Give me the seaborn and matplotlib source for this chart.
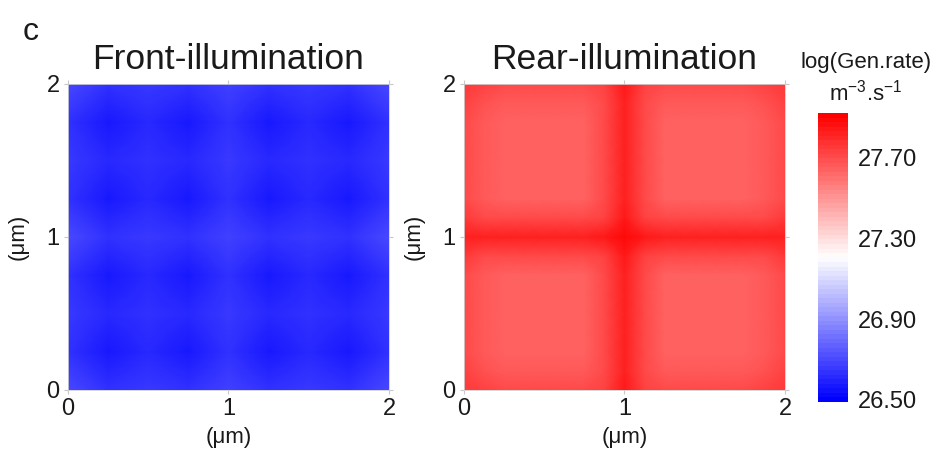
import numpy as np
import matplotlib
matplotlib.use("Agg")
import matplotlib.pyplot as plt
import seaborn as sns
from matplotlib.colors import LinearSegmentedColormap

# ---- data (log generation rate, m^-3 s^-1) ----
# front illumination: 9x9 grid, 0.25 um spacing, rows from y=0 (bottom) to y=2 (top)
front_row_light = [26.70, 26.64, 26.66, 26.64, 26.68, 26.64, 26.66, 26.64, 26.70]
front_row_dark  = [26.64, 26.57, 26.61, 26.57, 26.63, 26.57, 26.61, 26.57, 26.64]
front_row_mid   = [26.66, 26.61, 26.64, 26.61, 26.65, 26.61, 26.64, 26.61, 26.66]
front_rows = [front_row_light, front_row_dark, front_row_mid, front_row_dark,
              front_row_light, front_row_dark, front_row_mid, front_row_dark,
              front_row_light]

# rear illumination: 17x17 grid, 0.125 um spacing, rows from y=0 (bottom) to y=2 (top)
rear_row_edge   = [27.76, 27.72, 27.71, 27.71, 27.71, 27.71, 27.71, 27.74, 27.84,
                   27.74, 27.71, 27.71, 27.71, 27.71, 27.71, 27.72, 27.76]
rear_row_near   = [27.72, 27.68, 27.67, 27.67, 27.67, 27.67, 27.67, 27.71, 27.82,
                   27.71, 27.67, 27.67, 27.67, 27.67, 27.67, 27.68, 27.72]
rear_row_inner  = [27.71, 27.67, 27.65, 27.65, 27.65, 27.65, 27.65, 27.70, 27.82,
                   27.70, 27.65, 27.65, 27.65, 27.65, 27.65, 27.67, 27.71]
rear_row_side   = [27.75, 27.71, 27.70, 27.70, 27.70, 27.70, 27.70, 27.73, 27.84,
                   27.73, 27.70, 27.70, 27.70, 27.70, 27.70, 27.71, 27.75]
rear_row_center = [27.83, 27.82, 27.82, 27.82, 27.82, 27.82, 27.82, 27.84, 27.89,
                   27.84, 27.82, 27.82, 27.82, 27.82, 27.82, 27.82, 27.83]
rear_rows = [rear_row_edge, rear_row_near, rear_row_inner, rear_row_inner,
             rear_row_inner, rear_row_inner, rear_row_inner, rear_row_side,
             rear_row_center,
             rear_row_side, rear_row_inner, rear_row_inner, rear_row_inner,
             rear_row_inner, rear_row_inner, rear_row_near, rear_row_edge]

titles = ["Front-illumination", "Rear-illumination"]
tick_labels = ["0", "1", "2"]
cbar_ticks = [26.50, 26.90, 27.30, 27.70]
vmin, vmax = 26.49, 27.92

# ---- style ----
sns.set_theme(style="white")
plt.rcParams["font.family"] = ["Liberation Sans", "DejaVu Sans"]
plt.rcParams["mathtext.fontset"] = "custom"
plt.rcParams["mathtext.rm"] = "Liberation Sans"
plt.rcParams["mathtext.it"] = "Liberation Sans:italic"
plt.rcParams["mathtext.bf"] = "Liberation Sans:bold"

ink = "#1a1a1a"
cmap = LinearSegmentedColormap.from_list(
    "bwr64", [(0.0, 0.0, 1.0), (1.0, 1.0, 1.0), (1.0, 0.0, 0.0)], N=64)

fig = plt.figure(figsize=(9.36, 4.55), dpi=100)
ax1 = fig.add_axes([0.0726, 0.143, 0.343, 0.6725])
ax2 = fig.add_axes([0.4957, 0.143, 0.343, 0.6725])
cax = fig.add_axes([0.874, 0.1165, 0.032, 0.635])

for ax, rows, title, draw_cbar in [(ax1, front_rows, titles[0], False),
                                   (ax2, rear_rows, titles[1], True)]:
    data = np.array(rows)
    n = data.shape[0] - 1
    sns.heatmap(data, ax=ax, cmap=cmap, vmin=vmin, vmax=vmax,
                cbar=draw_cbar, cbar_ax=cax if draw_cbar else None,
                cbar_kws={"ticks": cbar_ticks, "format": "%.2f"} if draw_cbar else None,
                shading="gouraud", xticklabels=False, yticklabels=False,
                square=False)
    ax.set_xlim(0, n)
    ax.set_ylim(0, n)
    ax.set_xticks([0, n / 2, n])
    ax.set_yticks([0, n / 2, n])
    ax.set_xticklabels(tick_labels, fontsize=17, color=ink)
    ax.set_yticklabels(tick_labels, fontsize=17, color=ink, rotation=0)
    ax.tick_params(axis="both", which="both", direction="out", length=3,
                   width=0.8, color="#c8c8c8", pad=3,
                   top=True, right=True, bottom=True, left=True,
                   labeltop=False, labelright=False)
    for s in ax.spines.values():
        s.set_visible(True)
        s.set_color("#d0d0d0")
        s.set_linewidth(0.6)
    ax.set_title(title, fontsize=25.5, color=ink, pad=11)
    ax.set_xlabel("(μm)", fontsize=16, color=ink, labelpad=5)
    ax.set_ylabel("(μm)", fontsize=16, color=ink, labelpad=13)

cax.tick_params(length=0, labelsize=17, labelcolor=ink, pad=7)
cax.set_ylim(vmin, vmax)

fig.text(0.925, 0.862, "log(Gen.rate)", fontsize=16, ha="center", va="center",
         color=ink)
fig.text(0.925, 0.797, r"m$^{-3}$.s$^{-1}$", fontsize=16, ha="center", va="center",
         color=ink)
fig.text(0.033, 0.93, "c", fontsize=23, ha="center", va="center", color=ink)

fig.savefig("out.png", dpi=100)
